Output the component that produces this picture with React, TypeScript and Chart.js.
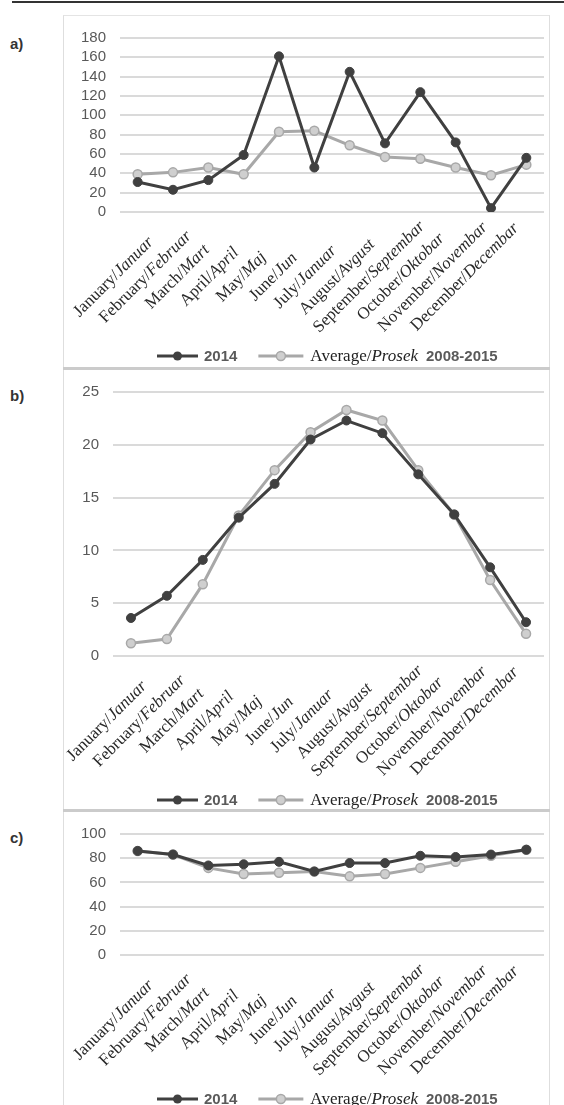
import React, { useEffect, useRef } from "react";
import { Chart, registerables } from "chart.js";

Chart.register(...registerables);

// ---------- data ----------
const monthsEn = ["January", "February", "March", "April", "May", "June", "July", "August", "September", "October", "November", "December"];
const monthsSr = ["Januar", "Februar", "Mart", "April", "Maj", "Jun", "Januar", "Avgust", "Septembar", "Oktobar", "Novembar", "Decembar"];

const precip2014 = [31, 23, 33, 59, 161, 46, 145, 71, 124, 72, 4, 56];
const precipAvg = [39, 41, 46, 39, 83, 84, 69, 57, 55, 46, 38, 49];
const precipTicks = [0, 20, 40, 60, 80, 100, 120, 140, 160, 180];

const temp2014 = [3.6, 5.7, 9.1, 13.1, 16.3, 20.5, 22.3, 21.1, 17.2, 13.4, 8.4, 3.2];
const tempAvg = [1.2, 1.6, 6.8, 13.3, 17.6, 21.2, 23.3, 22.3, 17.6, 13.4, 7.2, 2.1];
const tempTicks = [0, 5, 10, 15, 20, 25];

const hum2014 = [86, 83, 74, 75, 77, 69, 76, 76, 82, 81, 83, 87];
const humAvg = [86, 83, 72, 67, 68, 69, 65, 67, 72, 77, 82, 87];
const humTicks = [0, 20, 40, 60, 80, 100];

const legendSeries = "2014";
const legendAvgA = "Average/";
const legendAvgB = "Prosek";
const legendPeriod = "2008-2015";

const DARK = "#404040";
const LIGHT = "#a8a8a8";
const SERIF = '"Liberation Serif", "DejaVu Serif", serif';

const labelPlugin = {
  id: "customLabels",
  afterDraw(chart: any) {
    const ctx = chart.ctx as CanvasRenderingContext2D;
    const xs = chart.scales.x;
    const bottom = chart.chartArea.bottom;
    const fontN = `17px ${SERIF}`;
    const fontI = `italic 17px ${SERIF}`;
    const p0 = xs.getPixelForValue(0);
    const step = xs.getPixelForValue(1) - p0;
    for (let i = 0; i < monthsEn.length; i++) {
      const cx = p0 - 24 + i * (step - 3.4);
      const a = monthsEn[i] + "/";
      const b = monthsSr[i];
      ctx.save();
      ctx.font = fontN;
      const wa = ctx.measureText(a).width;
      ctx.font = fontI;
      const wb = ctx.measureText(b).width;
      const L = wa + wb;
      ctx.translate(cx, bottom + 65);
      ctx.rotate(-Math.PI / 4);
      ctx.textBaseline = "middle";
      ctx.textAlign = "left";
      ctx.fillStyle = "#2a2a2a";
      ctx.font = fontN;
      ctx.fillText(a, -L / 2, 0);
      ctx.font = fontI;
      ctx.fillText(b, -L / 2 + wa, 0);
      ctx.restore();
    }

    // legend
    const ly = bottom + 144;
    let x = 94;
    ctx.save();
    ctx.lineWidth = 3;
    ctx.strokeStyle = DARK;
    ctx.beginPath();
    ctx.moveTo(x, ly);
    ctx.lineTo(x + 41, ly);
    ctx.stroke();
    ctx.fillStyle = DARK;
    ctx.beginPath();
    ctx.arc(x + 20.5, ly, 4.5, 0, Math.PI * 2);
    ctx.fill();
    x += 47;
    ctx.textBaseline = "middle";
    ctx.textAlign = "left";
    ctx.font = `bold 15px "Liberation Sans", sans-serif`;
    ctx.fillStyle = "#5a5a5a";
    ctx.fillText(legendSeries, x, ly + 1);
    x += ctx.measureText(legendSeries).width + 21;
    ctx.strokeStyle = LIGHT;
    ctx.beginPath();
    ctx.moveTo(x, ly);
    ctx.lineTo(x + 45, ly);
    ctx.stroke();
    ctx.fillStyle = "#cfcfcf";
    ctx.lineWidth = 1.5;
    ctx.beginPath();
    ctx.arc(x + 22.5, ly, 4.5, 0, Math.PI * 2);
    ctx.fill();
    ctx.stroke();
    x += 52;
    ctx.fillStyle = "#222";
    ctx.font = `17px ${SERIF}`;
    ctx.fillText(legendAvgA, x, ly + 1);
    x += ctx.measureText(legendAvgA).width;
    ctx.font = `italic 17px ${SERIF}`;
    ctx.fillText(legendAvgB, x, ly + 1);
    x += ctx.measureText(legendAvgB).width + 8;
    ctx.font = `bold 15px "Liberation Sans", sans-serif`;
    ctx.fillStyle = "#5a5a5a";
    ctx.fillText(legendPeriod, x, ly + 1);
    ctx.restore();
  },
};

type PanelProps = {
  top: number;
  height: number;
  plotTop: number;
  plotBottom: number;
  plotLeft: number;
  s2014: number[];
  sAvg: number[];
  ticks: number[];
};

const LEFT = 63;
const WIDTH = 487;

function Panel({ top, height, plotTop, plotBottom, plotLeft, s2014, sAvg, ticks }: PanelProps) {
  const ref = useRef<HTMLCanvasElement | null>(null);
  useEffect(() => {
    if (!ref.current) return;
    const step = ticks[1] - ticks[0];
    const chart = new Chart(ref.current, {
      type: "line",
      data: {
        labels: monthsEn.map((m, i) => m + "/" + monthsSr[i]),
        datasets: [
          {
            label: legendSeries,
            data: s2014,
            borderColor: DARK,
            backgroundColor: DARK,
            borderWidth: 3,
            pointRadius: 4.5,
            pointBackgroundColor: DARK,
            pointBorderColor: DARK,
            pointBorderWidth: 1,
            tension: 0,
          },
          {
            label: legendAvgA + legendAvgB + " " + legendPeriod,
            data: sAvg,
            borderColor: LIGHT,
            backgroundColor: "#cfcfcf",
            borderWidth: 3,
            pointRadius: 4.5,
            pointBackgroundColor: "#cfcfcf",
            pointBorderColor: LIGHT,
            pointBorderWidth: 1.5,
            tension: 0,
          },
        ],
      },
      options: {
        animation: false,
        responsive: false,
        maintainAspectRatio: false,
        layout: {
          padding: { top: plotTop, bottom: height - plotBottom, left: 0, right: 5 },
        },
        plugins: { legend: { display: false }, tooltip: { enabled: false } },
        scales: {
          x: { display: false, offset: true },
          y: {
            min: ticks[0],
            max: ticks[ticks.length - 1],
            afterFit: (s: any) => {
              s.width = plotLeft;
            },
            ticks: {
              stepSize: step,
              autoSkip: false,
              padding: 14,
              color: "#595959",
              font: { family: '"Liberation Sans", sans-serif', size: 15 },
            },
            grid: { color: "#dadada", lineWidth: 2, drawTicks: false },
            border: { display: false },
          },
        },
      },
      plugins: [labelPlugin],
    } as any);
    return () => chart.destroy();
  }, []);
  return (
    <canvas
      ref={ref}
      width={WIDTH}
      height={height}
      style={{ position: "absolute", left: LEFT, top, width: WIDTH, height }}
    />
  );
}

export default function App() {
  const boxStyle = (top: number, height: number): React.CSSProperties => ({
    position: "absolute",
    left: LEFT,
    top,
    width: WIDTH - 2,
    height,
    borderLeft: "1px solid #dedede",
    borderRight: "1px solid #dedede",
    borderTop: "1px solid #e4e4e4",
  });
  const lab = (top: number): React.CSSProperties => ({
    position: "absolute",
    left: 10,
    top,
    font: 'bold 15px "Liberation Sans", sans-serif',
    color: "#333",
  });
  return (
    <div style={{ position: "absolute", left: 0, top: 0, width: 564, height: 1105, background: "#fff", overflow: "hidden" }}>
      <div style={{ position: "absolute", left: 12, top: 1, width: 552, height: 2, background: "#333" }} />
      <div style={boxStyle(15, 354)} />
      <div style={boxStyle(369, 442)} />
      <div style={boxStyle(811, 300)} />
      <div style={{ position: "absolute", left: LEFT, top: 367, width: WIDTH, height: 3, background: "#cbcbcb" }} />
      <div style={{ position: "absolute", left: LEFT, top: 809, width: WIDTH, height: 3, background: "#cbcbcb" }} />
      <div style={lab(35)}>a)</div>
      <div style={lab(387)}>b)</div>
      <div style={lab(829)}>c)</div>
      <Panel top={15} height={354} plotTop={14.5} plotBottom={197} plotLeft={57} s2014={precip2014} sAvg={precipAvg} ticks={precipTicks} />
      <Panel top={369} height={442} plotTop={13} plotBottom={287} plotLeft={50} s2014={temp2014} sAvg={tempAvg} ticks={tempTicks} />
      <Panel top={811} height={294} plotTop={12} plotBottom={144} plotLeft={57} s2014={hum2014} sAvg={humAvg} ticks={humTicks} />
    </div>
  );
}
